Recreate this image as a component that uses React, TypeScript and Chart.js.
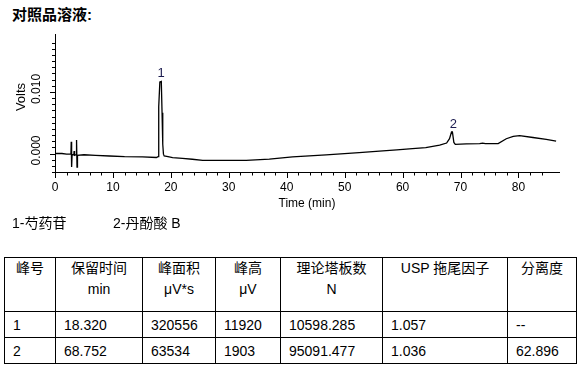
import React, { useEffect, useRef } from 'react';
import { Chart, registerables } from 'chart.js';

Chart.register(...registerables);

// ---- chromatogram trace (time in min, signal in volts) ----
const traceTime = [
  0, 1.2, 2.0, 2.75, 2.8, 2.87, 2.95, 3.25, 3.3, 3.38, 3.65, 3.72, 3.8, 3.88,
  5.0, 7.0, 9.4, 12.0, 15.1, 17.5, 17.8, 17.86, 17.95, 18.1, 18.35, 18.48, 18.6,
  18.72, 18.85, 19.5, 20.3, 22.0, 23.7, 25.5, 30.0, 33.0, 37.0, 41.0, 46.8, 52.5,
  56.0, 59.0, 61.7, 64.0, 66.4, 67.6, 68.1, 68.45, 68.6, 68.85, 69.1, 71.0, 73.3,
  73.8, 74.3, 76.5, 77.9, 79.1, 80.2, 82.5, 84.8, 86.5,
];
const traceVolts = [
  0.0, 0.0, -0.0001, -0.0001, 0.0019, -0.0022, -0.0002, -0.0002, 0.0004, -0.0003,
  -0.0002, 0.0022, -0.0022, -0.0003, -0.0002, -0.0003, -0.0004, -0.0005, -0.00055,
  -0.00065, -0.0005, 0.0015, 0.0076, 0.0116, 0.0117, 0.0066, 0.0015, -0.0001,
  -0.0004, -0.0005, -0.00065, -0.0008, -0.00093, -0.0011, -0.0011, -0.0011,
  -0.0009, -0.00055, -0.00023, 0.00013, 0.0004, 0.0006, 0.0008, 0.00095, 0.00135,
  0.0017, 0.0024, 0.0035, 0.0035, 0.0018, 0.0015, 0.00155, 0.0016, 0.0017, 0.0016,
  0.0016, 0.0024, 0.0028, 0.0029, 0.0026, 0.0023, 0.002,
];

// ---- axes ----
const xMin = 0;
const xMax = 87;
const xTickStep = 2;
const xLabelStep = 10;
const yMin = -0.003;
const yMax = 0.0194;
const yTickStep = 0.001;
const yLabelStep = 0.01;
const yLabelValues = [0, 0.01];
const yLabelTexts = ['0.000', '0.010'];
const xTitle = 'Time (min)';
const yTitle = 'Volts';

// ---- peaks / legend / table ----
const chartTitle = '对照品溶液:';
const legendItems = ['1-芍药苷', '2-丹酚酸 B'];
const headerTop = ['峰号', '保留时间', '峰面积', '峰高', '理论塔板数', 'USP 拖尾因子', '分离度'];
const headerUnit = ['', 'min', 'μV*s', 'μV', 'N', '', ''];
const peakNo = ['1', '2'];
const retTime = ['18.320', '68.752'];
const peakArea = ['320556', '63534'];
const peakHeight = ['11920', '1903'];
const plates = ['10598.285', '95091.477'];
const tailing = ['1.057', '1.036'];
const resolution = ['--', '62.896'];

const FONT = '"Liberation Sans", Arial, "Noto Sans CJK SC", sans-serif';
const colWidths = [51, 87, 73, 65, 102, 125, 69];

const isMultiple = (v: number, step: number) =>
  Math.abs(v / step - Math.round(v / step)) < 1e-6;

const overlayPlugin = {
  id: 'overlay',
  afterDraw(chart: any) {
    const { ctx, chartArea: a } = chart;
    const xs = chart.scales.x;
    const ys = chart.scales.y;
    ctx.save();
    ctx.strokeStyle = '#000';
    ctx.lineWidth = 1;
    ctx.beginPath();
    for (const t of xs.ticks) {
      const v = t.value;
      if (!isMultiple(v, xTickStep)) continue;
      const major = isMultiple(v, xLabelStep);
      const px = Math.round(xs.getPixelForValue(v)) + 0.5;
      ctx.moveTo(px, a.bottom);
      ctx.lineTo(px, a.bottom + (major ? 6 : 3.5));
    }
    for (const t of ys.ticks) {
      const v = t.value;
      if (!isMultiple(v, yTickStep)) continue;
      const major = isMultiple(v, yLabelStep);
      const py = Math.round(ys.getPixelForValue(v)) + 0.5;
      ctx.moveTo(a.left, py);
      ctx.lineTo(a.left - (major ? 5 : 3), py);
    }
    ctx.stroke();

    ctx.fillStyle = '#000';
    ctx.textAlign = 'center';
    ctx.textBaseline = 'middle';
    ctx.font = '12px ' + FONT;
    yLabelValues.forEach((v, i) => {
      const py = ys.getPixelForValue(v);
      ctx.save();
      ctx.translate(a.left - 18.5, py - 3);
      ctx.rotate(-Math.PI / 2);
      ctx.fillText(yLabelTexts[i], 0, 0);
      ctx.restore();
    });

    ctx.font = '13px ' + FONT;
    ctx.save();
    ctx.translate(21, 97);
    ctx.rotate(-Math.PI / 2);
    ctx.fillText(yTitle, 0, 0);
    ctx.restore();

    // peak labels at retention times, above the trace apex
    ctx.fillStyle = '#1c1c50';
    ctx.font = '13px ' + FONT;
    ctx.textBaseline = 'alphabetic';
    peakNo.forEach((name, i) => {
      const rt = parseFloat(retTime[i]);
      let apex = -Infinity;
      traceTime.forEach((t, j) => {
        if (Math.abs(t - rt) < 0.6 && traceVolts[j] > apex) apex = traceVolts[j];
      });
      const px = xs.getPixelForValue(rt);
      const py = ys.getPixelForValue(apex);
      ctx.fillText(name, px, py - 4);
    });
    ctx.restore();
  },
};

export default function App() {
  const ref = useRef<HTMLCanvasElement>(null);

  useEffect(() => {
    const data = traceTime.map((t, i) => ({ x: t, y: traceVolts[i] }));
    const chart = new Chart(ref.current as HTMLCanvasElement, {
      type: 'line',
      data: {
        datasets: [
          {
            data,
            borderColor: '#000',
            borderWidth: 1.3,
            pointRadius: 0,
            tension: 0,
            fill: false,
          },
        ],
      },
      options: {
        animation: false,
        responsive: false,
        devicePixelRatio: 1,
        layout: { padding: { left: 0, right: 21, top: 34, bottom: 0 } },
        plugins: { legend: { display: false }, tooltip: { enabled: false } },
        scales: {
          x: {
            type: 'linear',
            min: xMin,
            max: xMax,
            grid: { display: false, drawTicks: false },
            border: { display: true, color: '#000', width: 1 },
            ticks: {
              stepSize: xTickStep,
              autoSkip: false,
              maxRotation: 0,
              minRotation: 0,
              padding: 8,
              color: '#000',
              font: { family: FONT, size: 12 },
              callback: (v: any) => (isMultiple(Number(v), xLabelStep) ? String(Math.round(Number(v))) : ''),
            },
            title: {
              display: true,
              text: xTitle,
              color: '#000',
              font: { family: FONT, size: 12 },
              padding: { top: 0, bottom: 4 },
            },
            afterFit: (s: any) => {
              s.height = 43;
            },
          },
          y: {
            type: 'linear',
            min: yMin,
            max: yMax,
            grid: { display: false, drawTicks: false },
            border: { display: true, color: '#000', width: 1 },
            ticks: { stepSize: yTickStep, display: false },
            afterFit: (s: any) => {
              s.width = 55;
            },
          },
        },
      },
      plugins: [overlayPlugin],
    } as any);
    return () => chart.destroy();
  }, []);

  const rows = peakNo.map((p, i) => [p, retTime[i], peakArea[i], peakHeight[i], plates[i], tailing[i], resolution[i]]);
  const cell: React.CSSProperties = { border: '1px solid #000', padding: 0 };

  return (
    <div
      style={{
        position: 'absolute',
        left: 0,
        top: 0,
        width: 580,
        height: 368,
        background: '#fff',
        color: '#000',
        fontFamily: FONT,
        overflow: 'hidden',
      }}
    >
      <div style={{ position: 'absolute', left: 12, top: 6, fontSize: 15, fontWeight: 'bold', lineHeight: '18px', whiteSpace: 'nowrap' }}>
        {chartTitle}
      </div>
      <canvas
        ref={ref}
        width={580}
        height={215}
        style={{ position: 'absolute', left: 0, top: 0, width: 580, height: 215, display: 'block' }}
      />
      <div style={{ position: 'absolute', left: 12, top: 214, fontSize: 14, lineHeight: '18px', whiteSpace: 'nowrap' }}>
        {legendItems[0]}
      </div>
      <div style={{ position: 'absolute', left: 113, top: 214, fontSize: 14, lineHeight: '18px', whiteSpace: 'nowrap' }}>
        {legendItems[1]}
      </div>
      <table
        style={{
          position: 'absolute',
          left: 4,
          top: 257,
          width: 573,
          borderCollapse: 'collapse',
          tableLayout: 'fixed',
          fontSize: 14,
        }}
      >
        <colgroup>
          {colWidths.map((w, i) => (
            <col key={i} style={{ width: w }} />
          ))}
        </colgroup>
        <tbody>
          <tr style={{ height: 54 }}>
            {headerTop.map((h, i) => (
              <td key={i} style={{ ...cell, textAlign: 'center', verticalAlign: 'top', lineHeight: '21px' }}>
                <div>{h}</div>
                <div>{headerUnit[i] || '\u00a0'}</div>
              </td>
            ))}
          </tr>
          {rows.map((r, ri) => (
            <tr key={ri} style={{ height: 26 }}>
              {r.map((v, ci) => (
                <td key={ci} style={{ ...cell, paddingLeft: 8, verticalAlign: 'middle', lineHeight: '18px', whiteSpace: 'nowrap' }}>
                  {v}
                </td>
              ))}
            </tr>
          ))}
        </tbody>
      </table>
    </div>
  );
}
